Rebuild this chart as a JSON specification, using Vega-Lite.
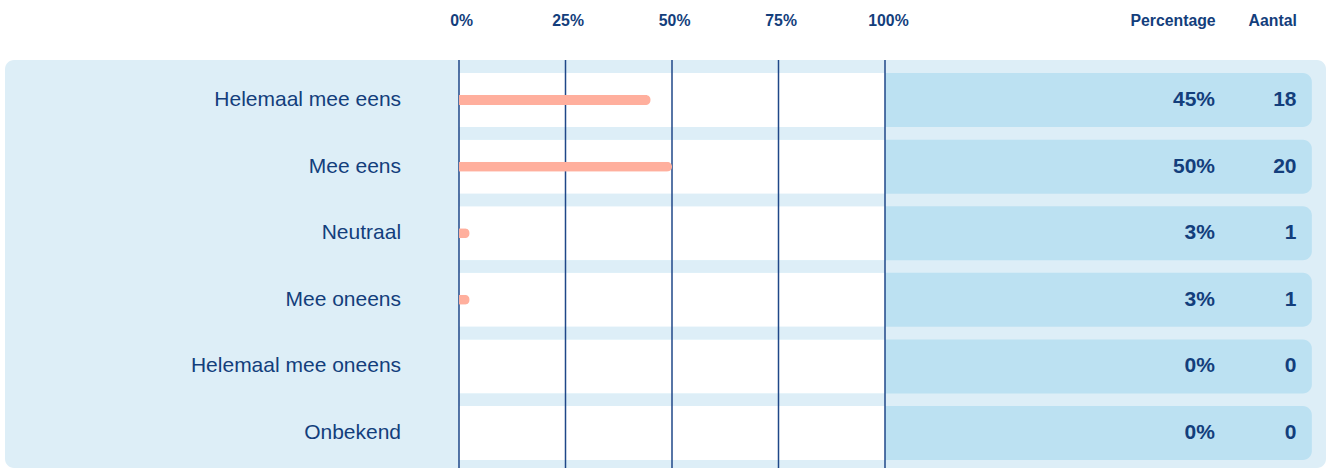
{
  "$schema": "https://vega.github.io/schema/vega-lite/v6.json",
  "autosize": {"type": "none"},
  "width": 1321,
  "height": 408,
  "padding": {"left": 5, "top": 60, "right": 1, "bottom": 0},
  "background": "white",
  "config": {
    "view": {"fill": "#DDEEF7", "stroke": null, "cornerRadius": 9},
    "font": "Liberation Sans"
  },
  "datasets": {
    "rows": [
      {"label": "Helemaal mee eens", "pct": 45, "pctText": "45%", "count": 18},
      {"label": "Mee eens", "pct": 50, "pctText": "50%", "count": 20},
      {"label": "Neutraal", "pct": 2.5, "pctText": "3%", "count": 1},
      {"label": "Mee oneens", "pct": 2.5, "pctText": "3%", "count": 1},
      {"label": "Helemaal mee oneens", "pct": 0, "pctText": "0%", "count": 0},
      {"label": "Onbekend", "pct": 0, "pctText": "0%", "count": 0}
    ],
    "ticks": [{"t": 0}, {"t": 25}, {"t": 50}, {"t": 75}, {"t": 100}]
  },
  "data": {"name": "rows"},
  "layer": [
    {
      "mark": {"type": "bar", "color": "#BCE1F2", "cornerRadiusEnd": 9},
      "encoding": {
        "y": {
          "field": "label",
          "type": "nominal",
          "sort": null,
          "axis": null,
          "scale": {"paddingInner": 0.189, "paddingOuter": 0.158, "align": 0.62}
        },
        "x": {
          "datum": 200.2,
          "type": "quantitative",
          "scale": {"domain": [-106.573, 203.521], "nice": false, "zero": false},
          "axis": {
            "orient": "top",
            "values": [0.5, 25.5, 50.5, 75.5, 100.7, 167.5, 190.9],
            "labelExpr": "datum.value > 150 ? (datum.value < 180 ? 'Percentage' : 'Aantal') : floor(datum.value) + '%'",
            "labelAlign": "center",
            "labelBaseline": "middle",
            "labelPadding": 40,
            "labelFontSize": 15.8,
            "labelFontWeight": "bold",
            "labelColor": "#133E7C",
            "labelFont": "Liberation Sans",
            "labelOverlap": false,
            "labelFlush": false,
            "domain": false,
            "ticks": false,
            "tickSize": 0,
            "grid": false,
            "title": null
          }
        }
      }
    },
    {
      "mark": {"type": "bar", "color": "white"},
      "encoding": {
        "y": {"field": "label", "type": "nominal", "sort": null},
        "x": {"datum": 100, "type": "quantitative"}
      }
    },
    {
      "data": {"name": "ticks"},
      "mark": {"type": "rule", "color": "#1F4788", "strokeWidth": 1.5},
      "encoding": {
        "x": {"field": "t", "type": "quantitative"}
      }
    },
    {
      "mark": {"type": "bar", "color": "#FFAF9D", "size": 10, "cornerRadiusEnd": 5},
      "encoding": {
        "y": {"field": "label", "type": "nominal", "sort": null},
        "x": {"field": "pct", "type": "quantitative"}
      }
    },
    {
      "mark": {"type": "text", "align": "right", "baseline": "middle", "fontSize": 21, "color": "#133E7C"},
      "encoding": {
        "y": {"field": "label", "type": "nominal", "sort": null},
        "x": {"datum": -13.6, "type": "quantitative"},
        "text": {"field": "label"}
      }
    },
    {
      "mark": {"type": "text", "align": "right", "baseline": "middle", "fontSize": 21, "fontWeight": "bold", "color": "#133E7C"},
      "encoding": {
        "y": {"field": "label", "type": "nominal", "sort": null},
        "x": {"datum": 177.46, "type": "quantitative"},
        "text": {"field": "pctText"}
      }
    },
    {
      "mark": {"type": "text", "align": "right", "baseline": "middle", "fontSize": 21, "fontWeight": "bold", "color": "#133E7C"},
      "encoding": {
        "y": {"field": "label", "type": "nominal", "sort": null},
        "x": {"datum": 196.6, "type": "quantitative"},
        "text": {"field": "count"}
      }
    }
  ]
}
